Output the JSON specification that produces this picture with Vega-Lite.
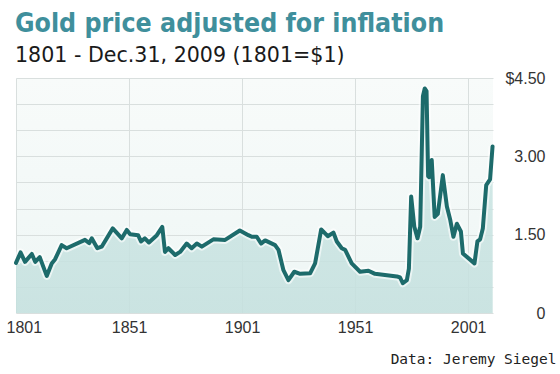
{
  "$schema": "https://vega.github.io/schema/vega-lite/v6.json",
  "autosize": "none",
  "width": 477,
  "height": 235,
  "padding": {"left": 16, "top": 78, "right": 67, "bottom": 61},
  "background": "white",
  "config": {
    "view": {"stroke": null, "fill": {"gradient": "linear", "x1": 0, "y1": 0, "x2": 0, "y2": 1, "stops": [{"offset": 0, "color": "#f8fbfa"}, {"offset": 1, "color": "#eef6f5"}]}}
  },
  "title": {
    "text": "Gold price adjusted for inflation",
    "subtitle": "1801 - Dec.31, 2009 (1801=$1)",
    "anchor": "start",
    "frame": "group",
    "offset": 3,
    "dx": -1,
    "font": "DejaVu Sans Condensed, sans-serif",
    "fontSize": 26.5,
    "fontWeight": "bold",
    "color": "#3f8f9c",
    "subtitleFont": "DejaVu Sans",
    "subtitleFontSize": 20.6,
    "subtitleColor": "#1a1a1a",
    "subtitlePadding": 9
  },
  "data": {"values": [
    {"year": 1801, "price": 0.96},
    {"year": 1803, "price": 1.16},
    {"year": 1805, "price": 0.98},
    {"year": 1808, "price": 1.13},
    {"year": 1809.5, "price": 0.98},
    {"year": 1811.5, "price": 1.07},
    {"year": 1814.6, "price": 0.71},
    {"year": 1816.8, "price": 0.95},
    {"year": 1818.3, "price": 1.03},
    {"year": 1821.2, "price": 1.30},
    {"year": 1823.4, "price": 1.24},
    {"year": 1831.5, "price": 1.40},
    {"year": 1833.4, "price": 1.34},
    {"year": 1834.5, "price": 1.43},
    {"year": 1837, "price": 1.24},
    {"year": 1838.9, "price": 1.27},
    {"year": 1843.8, "price": 1.62},
    {"year": 1847.8, "price": 1.43},
    {"year": 1850, "price": 1.59},
    {"year": 1851.5, "price": 1.51},
    {"year": 1855, "price": 1.49},
    {"year": 1856.3, "price": 1.37},
    {"year": 1858, "price": 1.43},
    {"year": 1859.8, "price": 1.35},
    {"year": 1863.3, "price": 1.49},
    {"year": 1865.7, "price": 1.65},
    {"year": 1866.9, "price": 1.17},
    {"year": 1868.4, "price": 1.24},
    {"year": 1871.4, "price": 1.11},
    {"year": 1873.6, "price": 1.17},
    {"year": 1876.5, "price": 1.33},
    {"year": 1878.7, "price": 1.24},
    {"year": 1881, "price": 1.33},
    {"year": 1883.2, "price": 1.27},
    {"year": 1888.3, "price": 1.41},
    {"year": 1893.5, "price": 1.40},
    {"year": 1900, "price": 1.58},
    {"year": 1903.8, "price": 1.49},
    {"year": 1905.3, "price": 1.46},
    {"year": 1907.5, "price": 1.46},
    {"year": 1909.4, "price": 1.33},
    {"year": 1911.2, "price": 1.39},
    {"year": 1915.6, "price": 1.30},
    {"year": 1917.1, "price": 1.21},
    {"year": 1919.3, "price": 0.82},
    {"year": 1921.5, "price": 0.63},
    {"year": 1924.1, "price": 0.79},
    {"year": 1926.7, "price": 0.75},
    {"year": 1931.1, "price": 0.76},
    {"year": 1933.3, "price": 0.95},
    {"year": 1936, "price": 1.60},
    {"year": 1938.9, "price": 1.47},
    {"year": 1941.4, "price": 1.54},
    {"year": 1942.9, "price": 1.37},
    {"year": 1945.1, "price": 1.24},
    {"year": 1946.6, "price": 1.21},
    {"year": 1949.5, "price": 0.95},
    {"year": 1953.2, "price": 0.79},
    {"year": 1956.9, "price": 0.81},
    {"year": 1959.8, "price": 0.75},
    {"year": 1969.5, "price": 0.70},
    {"year": 1970.9, "price": 0.68},
    {"year": 1972.1, "price": 0.57},
    {"year": 1973.9, "price": 0.63},
    {"year": 1974.8, "price": 0.85},
    {"year": 1975.8, "price": 2.23},
    {"year": 1977.2, "price": 1.65},
    {"year": 1978.6, "price": 1.43},
    {"year": 1979.8, "price": 1.65},
    {"year": 1981.0, "price": 4.15},
    {"year": 1981.8, "price": 4.30},
    {"year": 1982.6, "price": 4.25},
    {"year": 1983.3, "price": 2.62},
    {"year": 1983.8, "price": 2.60},
    {"year": 1984.9, "price": 2.93},
    {"year": 1986.2, "price": 1.84},
    {"year": 1987.6, "price": 1.90},
    {"year": 1989.8, "price": 2.64},
    {"year": 1991.6, "price": 2.04},
    {"year": 1993.1, "price": 1.78},
    {"year": 1994.5, "price": 1.46},
    {"year": 1996, "price": 1.71},
    {"year": 1997.8, "price": 1.56},
    {"year": 1998.7, "price": 1.14},
    {"year": 2003.8, "price": 0.95},
    {"year": 2005.1, "price": 1.37},
    {"year": 2006.3, "price": 1.41},
    {"year": 2007.5, "price": 1.62},
    {"year": 2009, "price": 2.45},
    {"year": 2010.7, "price": 2.56},
    {"year": 2011.8, "price": 3.19}
  ]},
  "encoding": {
    "x": {
      "field": "year", "type": "quantitative",
      "scale": {"domain": [1801, 2012], "nice": false, "zero": false},
      "axis": {
        "values": [1801, 1851, 1901, 1951, 2001],
        "format": "d",
        "grid": true, "gridColor": "#d9dfde", "gridWidth": 1,
        "domain": false, "ticks": false,
        "labelFont": "Liberation Sans", "labelFontSize": 16, "labelColor": "#333333",
        "labelPadding": 6, "labelFlush": true, "labelFlushOffset": 10,
        "title": "Data: Jeremy Siegel",
        "titleFont": "DejaVu Sans Mono", "titleFontSize": 14.5, "titleFontWeight": "normal",
        "titleColor": "#222222", "titleAlign": "right", "titleBaseline": "alphabetic",
        "titleX": 540, "titleY": 50
      }
    },
    "y": {
      "field": "price", "type": "quantitative",
      "scale": {"domain": [0, 4.5], "nice": false},
      "axis": {
        "orient": "right",
        "values": [0, 0.5, 1, 1.5, 2, 2.5, 3, 3.5, 4, 4.5],
        "labelExpr": "datum.value == 4.5 ? '$4.50' : datum.value == 0 ? '0' : (datum.value == 1.5 || datum.value == 3) ? format(datum.value, '.2f') : ''",
        "grid": true, "gridColor": "#d9dfde", "gridWidth": 1,
        "domain": false, "ticks": false,
        "labelFont": "Liberation Sans", "labelFontSize": 16, "labelColor": "#333333",
        "labelAlign": "right", "labelPadding": 52, "labelBaseline": "middle",
        "title": null
      }
    }
  },
  "layer": [
    {"mark": {"type": "area", "opacity": 0.85, "fill": {"gradient": "linear", "x1": 0, "y1": 0, "x2": 0, "y2": 1, "stops": [{"offset": 0, "color": "#cfe8e6"}, {"offset": 1, "color": "#c4e0de"}]}}},
    {"mark": {"type": "line", "color": "white", "strokeWidth": 8, "opacity": 0.6, "strokeJoin": "round"}},
    {"mark": {"type": "line", "color": "#1d6b6b", "strokeWidth": 4, "strokeJoin": "round", "strokeCap": "round"}}
  ]
}
